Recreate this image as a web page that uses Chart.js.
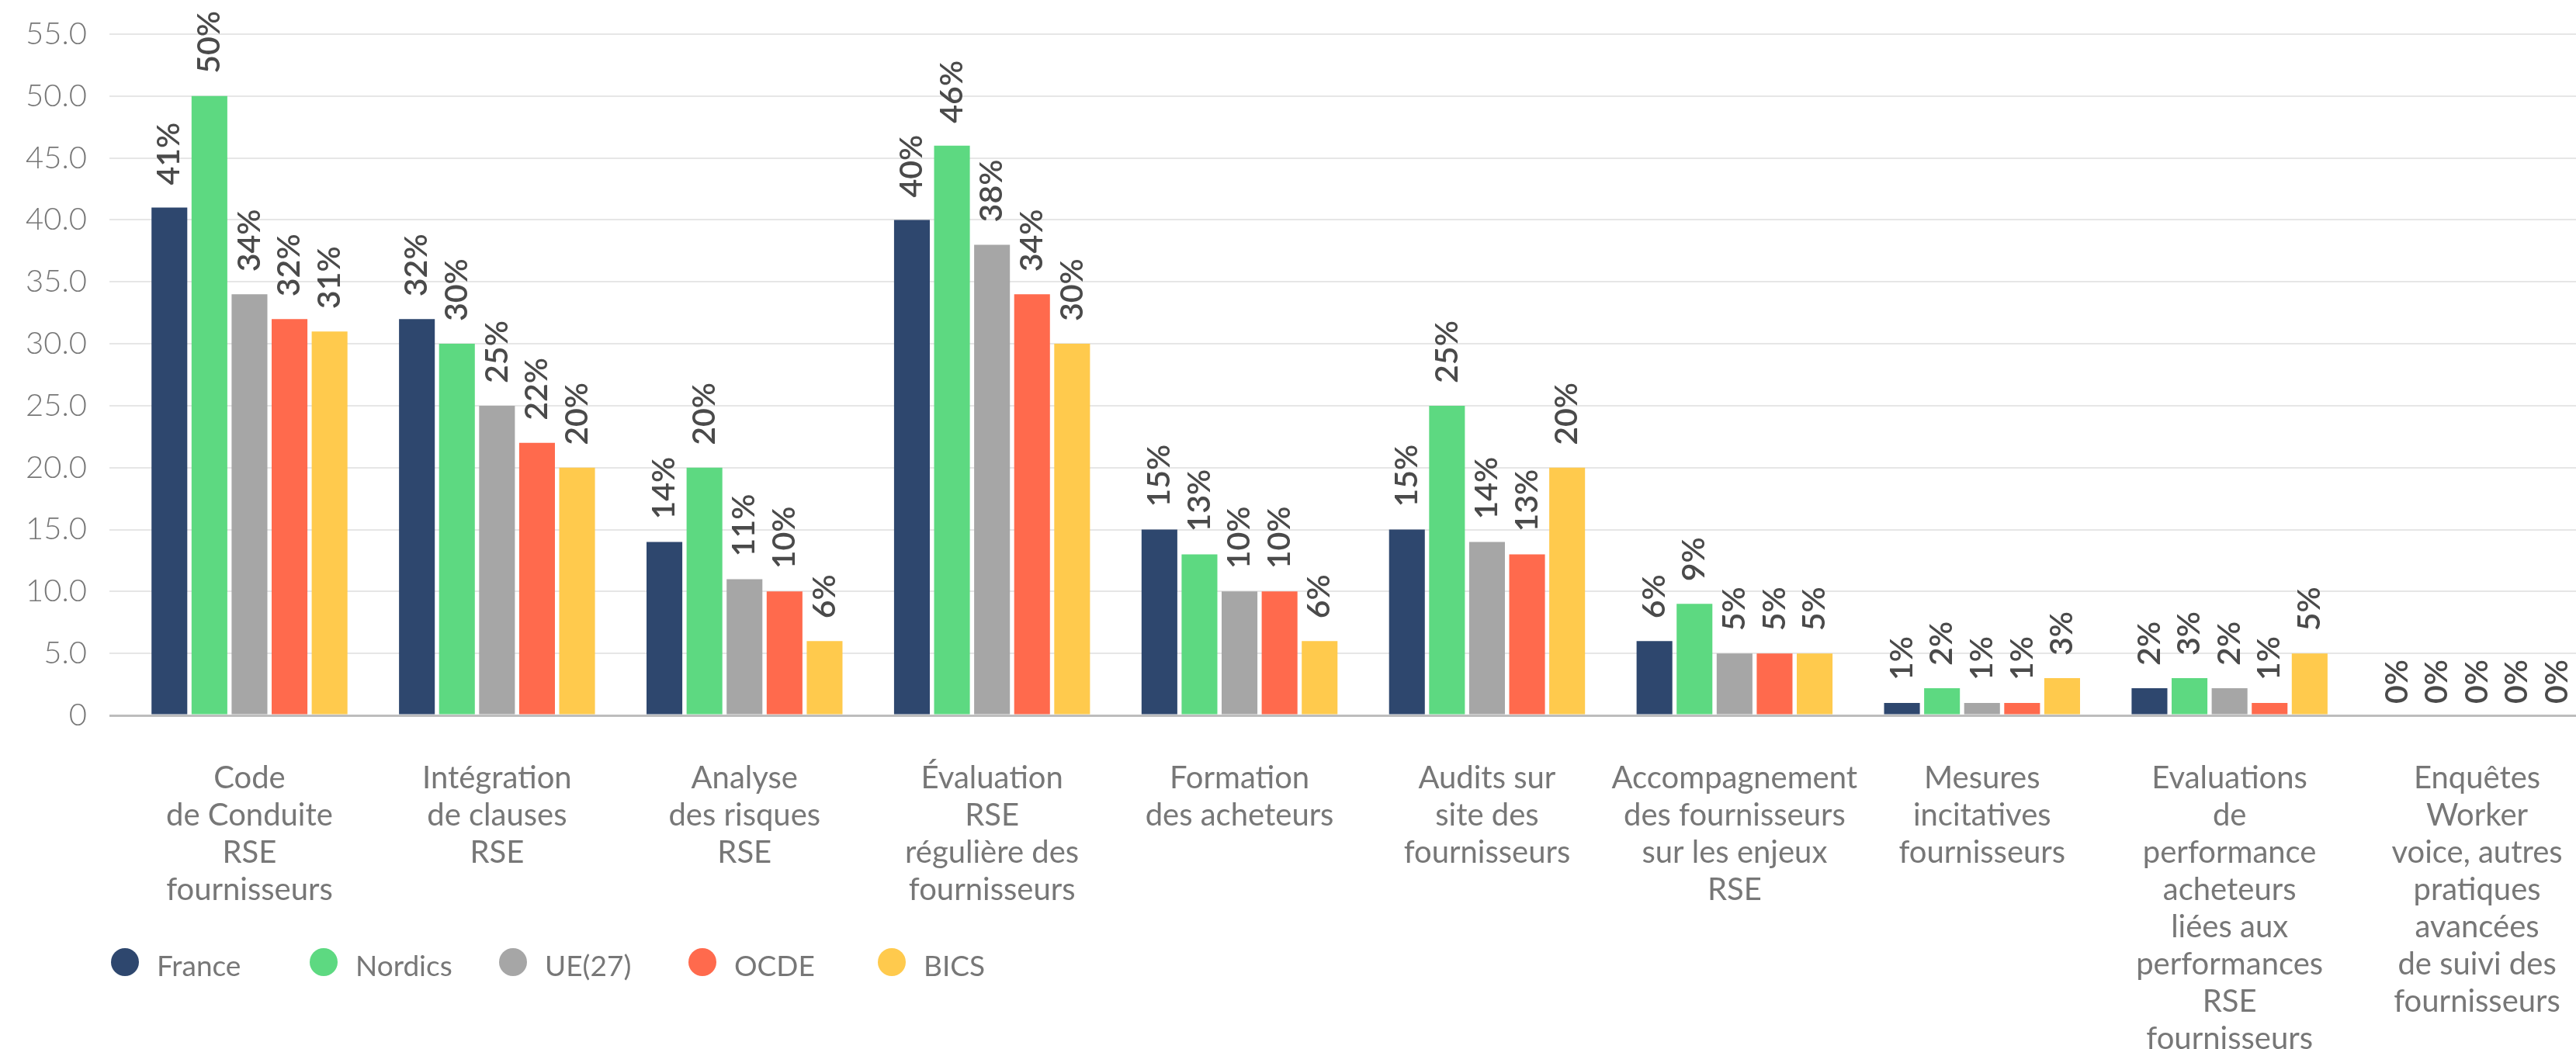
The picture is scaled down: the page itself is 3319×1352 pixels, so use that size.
<!DOCTYPE html>
<html>
<head>
<meta charset="utf-8">
<script src="https://cdn.jsdelivr.net/npm/chart.js@4.4.1/dist/chart.umd.min.js"></script>
<style>
  html, body { margin: 0; padding: 0; background: #fff; overflow: hidden; width: 3319px; height: 1352px; }
  #wrap { position: relative; width: 3351px; height: 1352px; }
  #legend { position: absolute; left: 143px; top: 1221px; display: flex; font-family: Lato, "Noto Sans", sans-serif; font-size: 37px; color: #777; }
  .item { width: 244px; display: flex; align-items: center; }
  .item:first-child { width: 256px; }
  .dot { width: 36px; height: 36px; border-radius: 50%; flex: none; }
  .txt { margin-left: 23px; line-height: 37px; position: relative; top: 4px; white-space: nowrap; }
</style>
</head>
<body>
<div id="wrap">
  <canvas id="c" width="3351" height="1352"></canvas>
  <div id="legend"></div>
</div>
<script>
const categories = [
  ["Code", "de Conduite", "RSE", "fournisseurs"],
  ["Intégration", "de clauses", "RSE"],
  ["Analyse", "des risques", "RSE"],
  ["Évaluation", "RSE", "régulière des", "fournisseurs"],
  ["Formation", "des acheteurs"],
  ["Audits sur", "site des", "fournisseurs"],
  ["Accompagnement", "des fournisseurs", "sur les enjeux", "RSE"],
  ["Mesures", "incitatives", "fournisseurs"],
  ["Evaluations", "de", "performance", "acheteurs", "liées aux", "performances", "RSE", "fournisseurs"],
  ["Enquêtes", "Worker", "voice, autres", "pratiques", "avancées", "de suivi des", "fournisseurs"]
];
const seriesNames = ["France", "Nordics", "UE(27)", "OCDE", "BICS"];
const france  = [41, 32, 14, 40, 15, 15, 6, 1, 2.2, 0];
const nordics = [50, 30, 20, 46, 13, 25, 9, 2.2, 3, 0];
const ue27    = [34, 25, 11, 38, 10, 14, 5, 1, 2.2, 0];
const ocde    = [32, 22, 10, 34, 10, 13, 5, 1, 1, 0];
const bics    = [31, 20, 6, 30, 6, 20, 5, 3, 5, 0];
const yMin = 0, yMax = 55, yStep = 5;

const seriesValues = [france, nordics, ue27, ocde, bics];
const seriesColors = ["#2e476e", "#5dd981", "#a6a6a6", "#ff6a4d", "#ffca4d"];

const FONT = 'Lato, "Noto Sans", sans-serif';

const barLabels = {
  id: 'barLabels',
  afterDatasetsDraw(chart) {
    const ctx = chart.ctx;
    ctx.save();
    ctx.font = '600 41px ' + FONT;
    ctx.fillStyle = '#4a4a4a';
    ctx.textAlign = 'left';
    ctx.textBaseline = 'middle';
    chart.data.datasets.forEach((ds, di) => {
      const meta = chart.getDatasetMeta(di);
      meta.data.forEach((bar, i) => {
        const v = ds.data[i];
        const off = v === 0 ? 15 : 29;
        ctx.save();
        ctx.translate(bar.x, bar.y - off);
        ctx.rotate(-Math.PI / 2);
        ctx.fillText(Math.round(v) + '%', 0, 0);
        ctx.restore();
      });
    });
    ctx.restore();
  }
};

const chart = new Chart(document.getElementById('c'), {
  type: 'bar',
  data: {
    labels: categories,
    datasets: seriesNames.map((n, k) => ({
      label: n,
      data: seriesValues[k],
      backgroundColor: seriesColors[k],
      borderWidth: 0,
      categoryPercentage: 0.809,
      barPercentage: 0.893
    }))
  },
  options: {
    responsive: false,
    animation: false,
    layout: { padding: { top: 44, left: 0, right: 0, bottom: 0 } },
    plugins: { legend: { display: false }, tooltip: { enabled: false } },
    scales: {
      x: {
        grid: { display: false },
        border: { display: false },
        ticks: {
          color: '#777',
          font: { family: FONT, size: 40, lineHeight: '48px' },
          padding: 49,
          maxRotation: 0,
          autoSkip: false
        },
        afterFit(scale) { scale.height = 430; }
      },
      y: {
        min: yMin,
        max: yMax,
        border: { display: false },
        grid: {
          drawTicks: true,
          tickLength: 21,
          color: (c) => (c.tick && c.tick.value === 0) ? '#bdbdbd' : '#e6e6e6',
          lineWidth: (c) => (c.tick && c.tick.value === 0) ? 3 : 2
        },
        ticks: {
          stepSize: yStep,
          color: '#777',
          padding: 29,
          font: { family: FONT, size: 40, weight: 300 },
          callback: (v) => v === 0 ? '0' : Number(v).toFixed(1)
        },
        afterFit(scale) { scale.width = 162; scale.paddingTop = 0; scale.paddingBottom = 0; }
      }
    }
  },
  plugins: [barLabels]
});

const legendEl = document.getElementById('legend');
chart.data.datasets.forEach((ds) => {
  const item = document.createElement('div');
  item.className = 'item';
  const dot = document.createElement('span');
  dot.className = 'dot';
  dot.style.background = ds.backgroundColor;
  const txt = document.createElement('span');
  txt.className = 'txt';
  txt.textContent = ds.label;
  item.appendChild(dot);
  item.appendChild(txt);
  legendEl.appendChild(item);
});
</script>
</body>
</html>
